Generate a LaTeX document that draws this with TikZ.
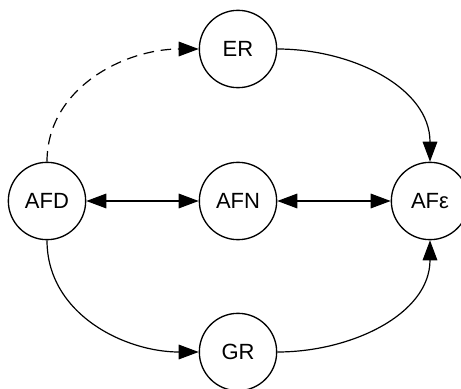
\documentclass[tikz,border=0pt]{standalone}
\usepackage{fontspec}
\setmainfont{Liberation Sans}
\usetikzlibrary{arrows.meta}

\begin{document}
\begin{tikzpicture}[x=0.75pt,y=0.75pt,yscale=-1,xscale=1,
  state/.style={draw,circle,line width=1pt,minimum size=58pt,inner sep=0pt,font=\fontsize{16.5}{19}\selectfont},
  tip/.style={-{Triangle[length=15pt,width=11pt]}},
  tips/.style={{Triangle[length=15pt,width=11pt]}-{Triangle[length=15pt,width=11pt]}}]
\useasboundingbox (0,0) rectangle (461,389);

% States
\node [state] (AFD) at (47,201) {AFD};
\node [state] (AFN) at (238,201) {AFN};
\node [state] (AFe) at (430,201) {AFε};
\node [state] (ER) at (238,49) {ER};
\node [state] (GR) at (238,352) {GR};

% Curved arrows (y axis is flipped, so -90 points up)
\draw [tip,line width=0.9pt,dash pattern={on 8pt off 5pt}] (AFD.north) to[out=-90,in=180] (ER.west);
\draw [tip,line width=0.9pt] (ER.east) to[out=0,in=-90] (AFe.north);
\draw [tip,line width=0.9pt] (AFD.south) to[out=90,in=180] (GR.west);
\draw [tip,line width=0.9pt] (GR.east) to[out=0,in=90] (AFe.south);

% Straight arrows
\draw [tips,line width=0.9pt] (AFD) -- (AFN);
\draw [tips,line width=0.9pt] (AFN) -- (AFe);

\end{tikzpicture}
\end{document}
